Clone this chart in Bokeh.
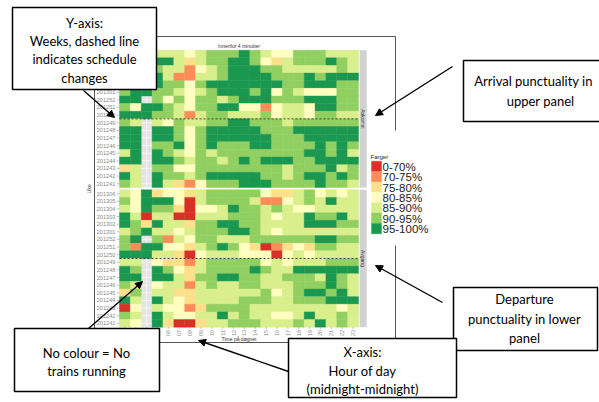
import math
from bokeh.plotting import figure
from bokeh.models import Range1d, ColumnDataSource, Arrow, NormalHead
from bokeh.core.properties import value
from bokeh.embed import file_html
from bokeh.resources import INLINE

# ---------------- data ----------------
hours = ["02", "03", "04", "05", "06", "07", "08", "09", "10", "11", "12",
         "13", "14", "15", "16", "17", "18", "19", "20", "21", "22", "23"]
weeks = ["201306", "201305", "201304", "201303", "201302", "201301",
         "201252", "201251", "201250", "201249", "201248", "201247",
         "201246", "201245", "201244", "201243", "201242", "201241"]
classes = ["0-70%", "70-75%", "75-80%", "80-85%", "85-90%", "90-95%", "95-100%"]
class_codes = ["R", "O", "Y", "P", "L", "G", "D"]          # "-" = no trains
class_colors = ["#d73027", "#fc8d59", "#fee08b", "#ffffbf",
                "#d9ef8b", "#91cf60", "#1a9850"]
schedule_change_week = "201250"   # dashed line below this week

# arrival punctuality (upper panel), one string per week, one code per hour
arrival = [
    "LGGLLLPLGGGDGLPPGGGLLL",
    "GDDDDLYLGGDDGPYLGGGDGL",
    "GGLGLLOPLGDDDGGLLLLLGL",
    "DGLDLOOLLGDDDDGGGDGDDD",
    "DGGDGGPGDDDDDDDGGDDDGG",
    "GDDGGLPLGDDDGDPGLPPPGG",
    "DD-GPGPGGLGDDDGGGDDDGG",
    "GPDDGLPGGDDPPOPLLPDDGG",
    "DDDGGLOLGGLLLGPLLPGGLL",
    "GL-LPGLLGGDDGGGLGGGGGG",
    "DD-DDGPGDDDDDGGGDDDDDD",
    "DD-DDGPGDDDDDDGGGDDDDD",
    "DD-GGDPGDGGGDDGGGGDGDG",
    "LD-DGLPGLGGGGGGGGDDGDL",
    "DD-DDGLGGLGDGDDDGGDDDD",
    "YL-GGPPGGGGGGGGLGGGDLG",
    "DL-DGGLGDDDDDGGLGDDGDG",
    "GL-DLYOPGGGDDDGGGGDGGL",
]
# departure punctuality (lower panel)
departure = [
    "LPDYPPYLGGGGGPYYLGPLPL",
    "GPDDDPRLGGGGLOOPLGLDLL",
    "LPDGGYRPPLDGGLGLPPLLLL",
    "DLRLLRRLLLGGGLPLLDGGDL",
    "DGYDLLYGGDDGGLLLLDDDGG",
    "LGDLLPLGGGDDGLPLLLLLLL",
    "GD-GOLPGGLLLGGGGGGDDGG",
    "GODDPPYLGDGPYROYPYGGLL",
    "DDDLLYRPLLLPPPRPLPLLLL",
    "LL-PYYOLGGGGGPLPLLLGGG",
    "DG-DGPYLGGGGDGLLDDDDDD",
    "DD-DDLYGGDDGGLLGGGLDGL",
    "GL-PLLOLGLLGGLLLGGGDGL",
    "YG-LLYYLLLLLLGPLGDDGDL",
    "DL-DLPYLLLLGGGLLGGGDDD",
    "RP-LPPOYGGGGLLLLLLLLPL",
    "GL-DLPPLLDLGLLPPLDLLGL",
    "LP-DYRRYLLGGGLLLGLDLGL",
]
panel_names = ["Ankomst", "Avgang"]

# ---------------- layout ----------------
W, H = 599, 402
GX0, CW = 119.0, 10.864      # page px of grid left, column width
GY0, RH = 49.7, 7.63         # page px of grid top, row height
LOWER = 18.3                 # lower panel offset (rows)

p = figure(width=W, height=H, x_range=Range1d(0, W), y_range=Range1d(H, 0),
           output_backend="svg", toolbar_location=None,
           x_axis_location=None, y_axis_location=None, min_border=0)
p.grid.visible = False
p.outline_line_color = None
p.background_fill_color = "white"
p.border_fill_color = "white"

p.extra_x_ranges = {"hx": Range1d(1.5 + (0 - GX0) / CW, 1.5 + (W - GX0) / CW)}
p.extra_y_ranges = {"wy": Range1d((H - GY0) / RH, (0 - GY0) / RH)}
HM = dict(x_range_name="hx", y_range_name="wy")

hx = [int(h) for h in hours]
x_left, x_right = hx[0] - 0.5, hx[-1] + 0.5
n_rows = len(weeks)
offsets = [0.0, LOWER]

# panel backgrounds
p.quad(left=[x_left] * 2, right=[x_right] * 2, top=offsets,
       bottom=[o + n_rows for o in offsets], fill_color="#e4e4e4", line_color=None, **HM)
# white grid lines
gx0, gy0, gx1, gy1 = [], [], [], []
for o in offsets:
    for h in hx:
        gx0.append(h); gx1.append(h); gy0.append(o); gy1.append(o + n_rows)
    for r in range(n_rows):
        gx0.append(x_left); gx1.append(x_right); gy0.append(o + r + 0.5); gy1.append(o + r + 0.5)
p.segment(gx0, gy0, gx1, gy1, line_color="white", line_width=0.6, **HM)

# tiles
cx, cy, cc = [], [], []
for o, rows in zip(offsets, [arrival, departure]):
    for r, s in enumerate(rows):
        for h, code in zip(hx, s):
            if code == "-":
                continue
            cx.append(h); cy.append(o + r + 0.5)
            cc.append(class_colors[class_codes.index(code)])
src = ColumnDataSource(dict(x=cx, y=cy, c=cc))
p.rect(x="x", y="y", width=1, height=1, fill_color="c", line_color="c",
       line_width=0.4, source=src, **HM)

# dashed schedule-change lines
ri = weeks.index(schedule_change_week) + 1
p.segment([x_left] * 2, [o + ri for o in offsets], [x_right] * 2, [o + ri for o in offsets],
          line_color="#333333", line_width=0.9, line_dash="2 2", **HM)

# right strips
s_l, s_r = x_right + 0.1, x_right + 0.75
p.quad(left=[s_l] * 2, right=[s_r] * 2, top=offsets, bottom=[o + n_rows for o in offsets],
       fill_color="#d2d2d2", line_color=None, **HM)
p.text(x=[(s_l + s_r) / 2] * 2, y=[o + n_rows / 2 for o in offsets], text=panel_names,
       angle=-math.pi / 2, text_align="center", text_baseline="middle",
       text_font=value("Liberation Sans"), text_font_size="5px", text_color="#333333", **HM)
# top strip title
p.text(x=[(x_left + x_right) / 2], y=[-0.6], text=["Innenfor 4 minutter"],
       text_align="center", text_baseline="middle", text_font=value("Liberation Sans"),
       text_font_size="5px", text_color="#333333", **HM)

# y tick labels + ticks
ty, tl = [], []
for o in offsets:
    for r, w in enumerate(weeks):
        ty.append(o + r + 0.5); tl.append(w)
p.text(x=[x_left - 0.38] * len(ty), y=ty, text=tl, text_align="right", text_baseline="middle",
       text_font=value("Liberation Sans"), text_font_size="5.6px", text_color="#8a8a8a", **HM)
p.segment([x_left - 0.25] * len(ty), ty, [x_left] * len(ty), ty,
          line_color="#9a9a9a", line_width=0.6, **HM)
# x tick labels + ticks
xb = LOWER + n_rows
p.text(x=hx, y=[xb + 0.35] * len(hx), text=hours, angle=math.pi / 2, text_align="right",
       text_baseline="middle", text_font=value("Liberation Sans"), text_font_size="5.6px",
       text_color="#8a8a8a", **HM)
p.segment(hx, [xb] * len(hx), hx, [xb + 0.25] * len(hx), line_color="#9a9a9a",
          line_width=0.6, **HM)
# axis titles
p.text(x=[(x_left + x_right) / 2], y=[xb + 1.55], text=["Time på døgnet"], text_align="center",
       text_baseline="middle", text_font=value("Liberation Sans"), text_font_size="5px",
       text_color="#333333", **HM)
p.text(x=[x_left - 2.85], y=[n_rows + 0.15], text=["Uke"], angle=math.pi / 2,
       text_align="center", text_baseline="middle", text_font=value("Liberation Sans"),
       text_font_size="5px", text_color="#333333", **HM)

# ---------------- embedded image frame (page px) ----------------
p.segment([94, 94, 395, 395, 94], [36, 36, 36, 245, 342], [395, 94, 395, 395, 395],
          [36, 342, 130, 342, 342], line_color="#555555", line_width=1)

# ---------------- legend (page px) ----------------
LY0, LH = 160.7, 10.37
p.text(x=[370], y=[156], text=["Farger"], text_align="left", text_baseline="middle",
       text_font=value("Liberation Sans"), text_font_size="6px", text_color="#222222")
p.rect(x=[376] * len(classes), y=[LY0 + LH * (i + 0.5) for i in range(len(classes))],
       width=10, height=LH, fill_color=class_colors, line_color=class_colors, line_width=0.4)
p.text(x=[382] * len(classes), y=[LY0 + LH * (i + 0.5) + 0.5 for i in range(len(classes))],
       text=classes, text_align="left", text_baseline="middle",
       text_font=value("Liberation Sans"), text_font_size="11.5px", text_color="#222222")

# ---------------- annotation boxes (page px) ----------------
boxes = [(12, 156, 7, 89), (463, 640, 60, 121), (453, 597, 287, 350),
         (14, 159, 328, 391), (288, 456, 338, 397)]
p.quad(left=[b[0] for b in boxes], right=[b[1] for b in boxes],
       top=[b[2] for b in boxes], bottom=[b[3] for b in boxes],
       fill_color="white", line_color="black", line_width=1.5)

lines = [
    (84, 22, "Y-axis:"), (84, 40.3, "Weeks, dashed line"), (84, 58.6, "indicates schedule"),
    (84, 77, "changes"),
    (533, 80.5, "Arrival punctuality in"), (540, 100.5, "upper panel"),
    (524, 298, "Departure"), (524, 318, "punctuality in lower"), (524, 337, "panel"),
    (86, 352, "No colour = No"), (86, 370.5, "trains running"),
    (362, 351, "X-axis:"), (362, 370, "Hour of day"), (362, 388.5, "(midnight-midnight)"),
]
p.text(x=[l[0] for l in lines], y=[l[1] for l in lines], text=[l[2] for l in lines],
       text_align="center", text_baseline="middle", text_font=value("Lato"),
       text_font_size="13px", text_color="black")

arrows = [((83, 90), (114, 117)), ((452, 66), (375, 115)), ((442, 302), (375, 265)),
          ((88, 328), (142, 281)), ((288, 371), (198, 340))]
for (xs, ys), (xe, ye) in arrows:
    p.add_layout(Arrow(end=NormalHead(size=7, fill_color="black", line_color="black"),
                       x_start=xs, y_start=ys, x_end=xe, y_end=ye,
                       line_color="black", line_width=1.4))

open("out.html", "w").write(file_html(p, INLINE))
